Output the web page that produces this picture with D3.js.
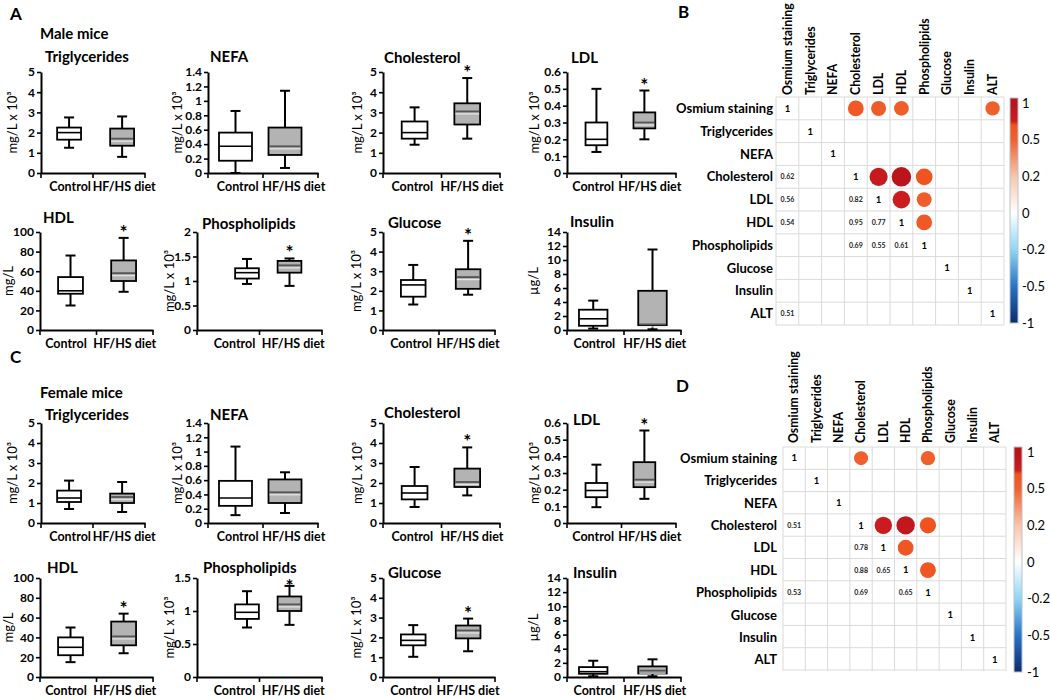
<!DOCTYPE html>
<html><head><meta charset="utf-8">
<script src="https://cdn.jsdelivr.net/npm/d3@7"></script>
<style>body{margin:0;background:#fff}svg{display:block}text{font-family:Lato,'Open Sans',sans-serif}</style>
</head><body><svg id="c" width="1050" height="699"></svg>
<script>
// ---------------- DATA ----------------
const groups = ["Control", "HF/HS diet"];
const analytes = ["Triglycerides","NEFA","Cholesterol","LDL","HDL","Phospholipids","Glucose","Insulin"];
const units = ["mg/L x 10³","mg/L x 10³","mg/L x 10³","mg/L x 10³","mg/L","mg/L x 10³","mg/L x 10³","µg/L"];
const maleTicks = [[0,1,2,3,4,5],[0,0.2,0.4,0.6,0.8,1,1.2,1.4],[0,1,2,3,4,5],[0,0.1,0.2,0.3,0.4,0.5,0.6],
                   [0,20,40,60,80,100],[0,0.5,1,1.5,2],[0,1,2,3,4,5],[0,2,4,6,8,10,12,14]];
const femaleTicks = [[0,1,2,3,4,5],[0,0.2,0.4,0.6,0.8,1,1.2,1.4],[0,1,2,3,4,5],[0,0.1,0.2,0.3,0.4,0.5,0.6],
                   [0,20,40,60,80,100],[0,0.5,1,1.5],[0,1,2,3,4,5],[0,2,4,6,8,10,12,14]];
// [whisker min, Q1, median, Q3, whisker max]
const maleControl = [[1.25,1.65,2.0,2.25,2.75],[0,0.17,0.37,0.56,0.86],[1.4,1.7,2.0,2.55,3.25],[0.125,0.165,0.2,0.3,0.5],
                     [25,37,40,54,76],[0.94,1.05,1.17,1.26,1.45],[1.3,1.7,2.3,2.55,3.32],[0.2,0.6,1.6,2.9,4.2]];
const maleHF = [[0.8,1.35,1.7,2.2,2.8],[0.07,0.25,0.37,0.63,1.14],[1.7,2.4,3.05,3.45,4.7],[0.2,0.265,0.3,0.36,0.49],
                [39,50,58,71,94],[0.9,1.17,1.32,1.41,1.46],[1.8,2.1,2.7,3.1,4.55],[0.1,0.7,0.8,5.6,11.5]];
const femaleControl = [[0.7,1.05,1.25,1.62,2.12],[0.11,0.24,0.35,0.59,1.07],[0.8,1.18,1.5,1.85,2.8],[0.095,0.155,0.195,0.24,0.35],
                       [15,22,30,40,50],[0.75,0.88,0.98,1.1,1.3],[1.02,1.6,1.85,2.15,2.62],[0.1,0.45,0.75,1.4,2.3]];
const femaleHF = [[0.55,1.0,1.3,1.47,2.05],[0.14,0.28,0.43,0.61,0.71],[1.38,1.8,2.05,2.72,3.78],[0.145,0.215,0.26,0.365,0.555],
                  [24,32,41,56,64],[0.79,1.0,1.1,1.22,1.38],[1.3,1.95,2.35,2.6,2.95],[0.1,0.5,0.9,1.5,2.5]];
const maleSignificant = [false,false,true,true,true,true,true,false];
const femaleSignificant = [false,false,true,true,true,true,true,false];

const corrVars = ["Osmium staining","Triglycerides","NEFA","Cholesterol","LDL","HDL","Phospholipids","Glucose","Insulin","ALT"];
// [row index, column index, r] (lower triangle, significant only)
const maleCorr = [[3,0,0.62],[4,0,0.56],[5,0,0.54],[9,0,0.51],[4,3,0.82],[5,3,0.95],[5,4,0.77],[6,3,0.69],[6,4,0.55],[6,5,0.61]];
const femaleCorr = [[3,0,0.51],[6,0,0.53],[4,3,0.78],[5,3,0.88],[5,4,0.65],[6,3,0.69],[6,5,0.65]];
const colorbarTicks = [1,0.5,0.2,0,-0.2,-0.5,-1];

// ---------------- LAYOUT ----------------
const svg = d3.select("#c");
const axisXTop = [[41,145],[208,318],[383,500],[567,676]];
const axisXBottom = [[40,153],[197,322],[383,495],[567,681]];
const rowsY = [[72,173],[232,330],[423,523],[578,677]];
const titlesXY = [
  [[45,62],[210,62],[384,63],[571,63]],
  [[43,223],[202,229],[388,228],[570,227]],
  [[45,420],[210,420],[384,418],[573,425]],
  [[47,573],[203,573],[388,578],[573,578]]
];
const boxCenterFrac = [[0.27,0.78],[0.25,0.70],[0.27,0.72],[0.27,0.71],[0.27,0.74],[0.40,0.74],[0.27,0.76],[0.23,0.75]];
const labelFrac = [[0.28,0.8],[0.27,0.78],[0.25,0.76],[0.24,0.76],[0.23,0.75],[0.3,0.77],[0.25,0.76],[0.24,0.77]];
const boxWidthFrac = [0.23,0.30,0.22,0.2,0.22,0.19,0.22,0.25];
const ylabOffset = [-29,-31,-26,-33,-32,-28,-27,-34];
const starDyMale = [1,1,1,1,1,1,1,1];
const starDyFemale = [1,1,1,1,1,7,1,1];

const color = d3.scaleLinear()
  .domain([-1,-0.5,-0.2,0,0.2,0.5,0.7,0.75,1])
  .range(["#0b2c6b","#2a72c6","#8fd6f3","#ffffff","#f8c6aa","#f0602e","#f0521f","#cd1d1f","#b8121b"]);

function txt(x,y,s,size,weight,anchor){
  return svg.append("text").attr("x",x).attr("y",y).text(s)
    .attr("font-size",size).attr("font-weight",weight||"normal")
    .attr("text-anchor",anchor||"start").attr("fill","#000");
}

function boxPanel(i, x0, x1, y0, y1, ticks, ctrl, hf, sig, tpos, starDy){
  const g = svg.append("g");
  const x = d3.scaleBand().domain(groups).range([x0,x1]);
  const y = d3.scaleLinear().domain([0, d3.max(ticks)]).range([y1,y0]);
  const w = x1-x0;
  // y axis
  const ya = g.append("g").attr("transform",`translate(${x0},0)`)
    .call(d3.axisLeft(y).tickValues(ticks).tickFormat(d3.format("~g")).tickSize(4).tickSizeOuter(0).tickPadding(2));
  ya.select(".domain").attr("stroke","#000").attr("stroke-width",2);
  ya.selectAll(".tick line").attr("stroke","#000").attr("stroke-width",1.6);
  ya.selectAll(".tick text").attr("font-size",12).attr("font-weight","bold").attr("fill","#000").attr("font-family","Lato,sans-serif");
  // x axis (baseline line + category boundary ticks)
  const xa = g.append("g").attr("transform",`translate(0,${y1})`)
    .call(d3.axisBottom(x).tickSize(0).tickFormat(""));
  xa.select(".domain").attr("stroke","#000").attr("stroke-width",2);
  const bounds = [x0, x(groups[1]), x1];
  g.selectAll("line.bt").data(bounds).join("line").attr("class","bt")
    .attr("x1",d=>d).attr("x2",d=>d).attr("y1",y1).attr("y2",y1+5)
    .attr("stroke","#000").attr("stroke-width",1.6);
  g.selectAll("text.cat").data(groups).join("text").attr("class","cat")
    .attr("x",(d,k)=>x0 + w*labelFrac[i][k]).attr("y",y1+18).attr("text-anchor","middle")
    .attr("font-size",12.5).attr("font-weight","bold").text(d=>d);
  // boxes
  const bw = w*boxWidthFrac[i];
  [ctrl, hf].forEach((v,k)=>{
    const cx = x0 + w*boxCenterFrac[i][k];
    const [mn,q1,md,q3,mx] = v;
    const bg = g.append("g");
    bg.append("line").attr("x1",cx).attr("x2",cx).attr("y1",y(mx)).attr("y2",y(q3)).attr("stroke","#000").attr("stroke-width",2);
    bg.append("line").attr("x1",cx).attr("x2",cx).attr("y1",y(q1)).attr("y2",y(mn)).attr("stroke","#000").attr("stroke-width",2);
    [mn,mx].forEach(wv=>bg.append("line").attr("x1",cx-5).attr("x2",cx+5).attr("y1",y(wv)).attr("y2",y(wv)).attr("stroke","#000").attr("stroke-width",2));
    bg.append("rect").attr("x",cx-bw/2).attr("y",y(q3)).attr("width",bw).attr("height",Math.max(1,y(q1)-y(q3)))
      .attr("fill",k===0?"#fff":"#b3b3b3").attr("stroke","#000").attr("stroke-width",1.8);
    if(k===1){
      bg.append("line").attr("x1",cx-bw/2+1).attr("x2",cx+bw/2-1).attr("y1",y(md)+2.5).attr("y2",y(md)+2.5).attr("stroke","#e6e6e6").attr("stroke-width",1.2);
      bg.append("line").attr("x1",cx-bw/2+1).attr("x2",cx+bw/2-1).attr("y1",y(md)).attr("y2",y(md)).attr("stroke","#555").attr("stroke-width",1.8);
    } else {
      bg.append("line").attr("x1",cx-bw/2).attr("x2",cx+bw/2).attr("y1",y(md)).attr("y2",y(md)).attr("stroke","#000").attr("stroke-width",1.6);
    }
    if(k===1 && sig){
      txt(cx, y(mx)+starDy, "*", 19, "bold", "middle");
    }
  });
  // title
  txt(tpos[0], tpos[1], analytes[i], 15, "bold");
  // y label
  svg.append("text").attr("transform",`translate(${x0+ylabOffset[i]},${(y0+y1)/2}) rotate(-90)`)
    .attr("text-anchor","middle").attr("dy","0.35em").attr("font-size",13).text(units[i]);
}

function drawSex(rowOffset, ticks, ctrlAll, hfAll, sigAll, starDy){
  for(let i=0;i<8;i++){
    const r = rowOffset + (i<4?0:1);
    const ax = i<4 ? axisXTop[i] : axisXBottom[i-4];
    boxPanel(i, ax[0], ax[1], rowsY[r][0], rowsY[r][1], ticks[i], ctrlAll[i], hfAll[i], sigAll[i], titlesXY[r][i%4], starDy[i]);
  }
}
drawSex(0, maleTicks, maleControl, maleHF, maleSignificant, starDyMale);
drawSex(2, femaleTicks, femaleControl, femaleHF, femaleSignificant, starDyFemale);

txt(10,20,"A",17,"bold");
txt(40,39,"Male mice",15,"bold");
txt(10,363,"C",17,"bold");
txt(40,398,"Female mice",15,"bold");
txt(678,18,"B",17,"bold");
txt(676,392,"D",17,"bold");

// ---------------- CORRELATION MATRICES ----------------
let gradId = 0;
function corrPanel(data, gx0, gx1, gy0, gy1, labelRight, labelBottom, cbx, cby0, cby1, cbl0, cbl1, cblx){
  const g = svg.append("g");
  const idx = d3.range(corrVars.length);
  const xb = d3.scaleBand().domain(idx).range([gx0,gx1]);
  const yb = d3.scaleBand().domain(idx).range([gy0,gy1]);
  const bw = xb.bandwidth();
  // grid
  const edges = idx.concat([corrVars.length]);
  g.selectAll("line.v").data(edges).join("line").attr("class","v")
    .attr("x1",d=>gx0+d*bw).attr("x2",d=>gx0+d*bw).attr("y1",gy0).attr("y2",gy1).attr("stroke","#dadada").attr("stroke-width",1);
  g.selectAll("line.h").data(edges).join("line").attr("class","h")
    .attr("y1",d=>gy0+d*bw).attr("y2",d=>gy0+d*bw).attr("x1",gx0).attr("x2",gx1).attr("stroke","#dadada").attr("stroke-width",1);
  // upper circles (mirror)
  g.selectAll("circle").data(data).join("circle")
    .attr("cx",d=>xb(d[0])+bw/2).attr("cy",d=>yb(d[1])+bw/2)
    .attr("r",d=>bw*0.44*Math.sqrt(Math.abs(d[2])))
    .attr("fill",d=>color(d[2]));
  // diagonal
  g.selectAll("text.diag").data(idx).join("text").attr("class","diag")
    .attr("x",d=>xb(d)+bw/2).attr("y",d=>yb(d)+bw/2).attr("dy","0.35em")
    .attr("text-anchor","middle").attr("font-size",9.5).attr("font-weight","bold").text("1");
  // lower values
  g.selectAll("text.val").data(data).join("text").attr("class","val")
    .attr("x",d=>xb(d[1])+bw/2).attr("y",d=>yb(d[0])+bw/2).attr("dy","0.35em")
    .attr("text-anchor","middle").attr("font-size",7).attr("font-weight","bold").attr("fill","#222")
    .text(d=>d3.format(".2f")(d[2]));
  // row labels
  g.selectAll("text.row").data(idx).join("text").attr("class","row")
    .attr("x",labelRight).attr("y",d=>yb(d)+bw/2).attr("dy","0.35em")
    .attr("text-anchor","end").attr("font-size",13).attr("font-weight","bold").text(d=>corrVars[d]);
  // column labels
  g.selectAll("text.col").data(idx).join("text").attr("class","col")
    .attr("transform",d=>`translate(${xb(d)+bw/2},${labelBottom}) rotate(-90)`).attr("dy","0.35em")
    .attr("text-anchor","start").attr("font-size",12.3).attr("font-weight","bold").text(d=>corrVars[d]);
  // colorbar
  const pos = d3.scaleLinear().domain(colorbarTicks).range(colorbarTicks.map((d,k)=>cbl0 + k*(cbl1-cbl0)/(colorbarTicks.length-1)));
  const id = "cb"+(gradId++);
  const grad = svg.append("defs").append("linearGradient").attr("id",id).attr("x1",0).attr("x2",0).attr("y1",0).attr("y2",1);
  const stopVals = [1,0.75,0.7,0.5,0.2,0,-0.2,-0.5,-1];
  grad.selectAll("stop").data(stopVals).join("stop")
    .attr("offset",d=>Math.max(0,Math.min(1,(pos(d)-cby0)/(cby1-cby0))))
    .attr("stop-color",d=>color(d));
  g.append("rect").attr("x",cbx).attr("y",cby0).attr("width",8).attr("height",cby1-cby0)
    .attr("fill",`url(#${id})`).attr("stroke","#b9c3cc").attr("stroke-width",1);
  const lp = d3.scalePoint().domain(colorbarTicks.map(String)).range([cbl0,cbl1]);
  g.selectAll("text.cb").data(colorbarTicks.map(String)).join("text").attr("class","cb")
    .attr("x",cblx).attr("y",d=>lp(d)).attr("dy","0.35em").attr("font-size",13).text(d=>d);
}
corrPanel(maleCorr, 776, 1004, 97, 325, 773, 95, 1010, 98, 323, 103, 323, 1022);
corrPanel(femaleCorr, 783, 1006, 447, 671, 777, 443, 1014, 447, 672, 452, 672, 1027);
</script></body></html>
